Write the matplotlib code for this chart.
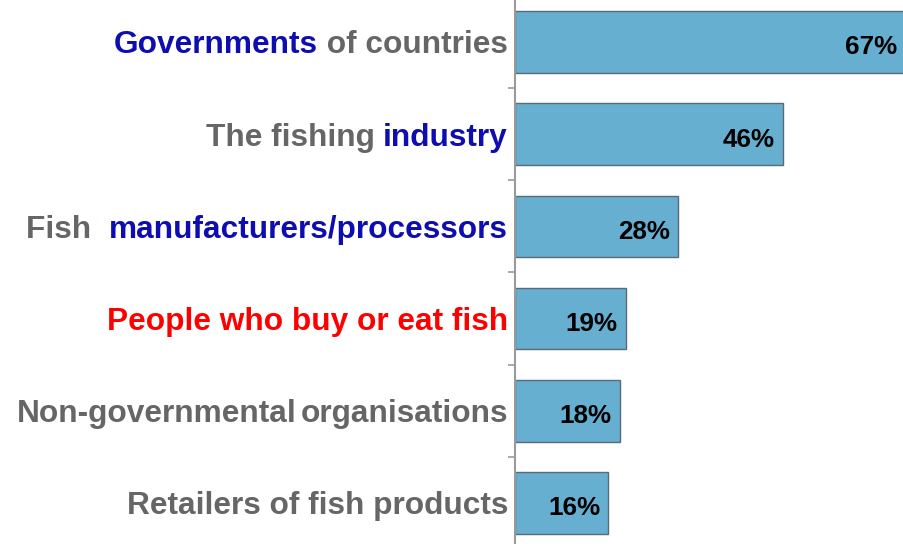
import matplotlib
matplotlib.use("Agg")
import matplotlib.pyplot as plt

plt.rcParams['font.family'] = ['Liberation Sans', 'DejaVu Sans']

# Data
GRAY = '#666666'
BLUE = '#0E0EB0'
RED = '#FF0000'
label_segments = [
    [("Governments", BLUE), (" of countries", GRAY)],
    [("The fishing ", GRAY), ("industry", BLUE)],
    [("Fish  ", GRAY), ("manufacturers/processors", BLUE)],
    [("People who buy or eat fish", RED)],
    [("Non-governmental", GRAY), ("organisations", GRAY)],
    [("Retailers of fish products", GRAY)],
]
values = [67, 46, 28, 19, 18, 16]
value_labels = ["67%", "46%", "28%", "19%", "18%", "16%"]

W, H = 904, 544
PT = 0.72  # points per pixel at dpi 100
fig = plt.figure(figsize=(W / 100, H / 100), dpi=100)
ax = fig.add_axes([515 / W, 0, (W - 515) / W, 1])

pos = list(range(len(values)))
ax.barh(pos, values, height=0.67, color='#66AFD1', edgecolor='#5A6A78', linewidth=1.0, clip_on=True)

ax.set_xlim(0, 66.77)
ax.set_ylim(5.4447, -0.4555)

for sp in ['top', 'right', 'bottom']:
    ax.spines[sp].set_visible(False)
ax.spines['left'].set_color('#9A9A9A')
ax.spines['left'].set_linewidth(1.5)
ax.set_xticks([])
ax.set_yticks([p + 0.5 for p in pos[:-1]])
ax.set_yticklabels([])
ax.tick_params(axis='y', direction='out', length=5, width=1.2, color='#9A9A9A')

fs = 22.8
for p, segs in zip(pos, label_segments):
    prev = None
    for txt, col in reversed(segs):
        if prev is None:
            prev = ax.annotate(txt, xy=(0, p), xycoords=('axes fraction', 'data'),
                               xytext=(-7 * PT, -11.5 * PT), textcoords='offset points',
                               ha='right', va='baseline', fontsize=fs, fontweight='bold',
                               color=col, annotation_clip=False)
        else:
            gap = -3 if txt.startswith("Non") else 0
            prev = ax.annotate(txt, xy=(0, 0), xycoords=prev,
                               xytext=(gap, 0), textcoords='offset points',
                               ha='right', va='bottom', fontsize=fs, fontweight='bold',
                               color=col, annotation_clip=False)

for p, v, lab in zip(pos, values, value_labels):
    ax.annotate(lab, xy=(v, p), xycoords='data', xytext=(-8 * PT, -12.5 * PT),
                textcoords='offset points', ha='right', va='baseline',
                fontsize=18.7, fontweight='bold', color='black', annotation_clip=False)

fig.savefig('out.png', dpi=100)
